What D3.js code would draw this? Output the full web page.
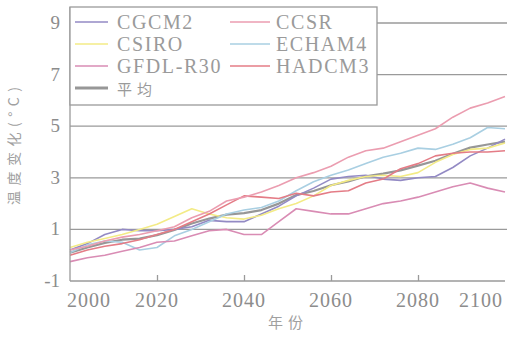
<!DOCTYPE html>
<html>
<head>
<meta charset="utf-8">
<script src="https://cdn.jsdelivr.net/npm/d3@7"></script>
<style>
  html, body { margin: 0; padding: 0; background: #fff; }
  svg { display: block; }
  .serif { font-family: "Liberation Serif", "DejaVu Serif", serif; }
  .cjk { font-family: "Noto Sans CJK SC", "Noto Sans", sans-serif; }
</style>
</head>
<body>
<div id="chart"></div>
<script>
// Projected temperature change (°C) from six GCMs and their ensemble mean
const years = d3.range(2000, 2101, 4);

const seriesNames = ["CGCM2", "CCSR", "CSIRO", "ECHAM4", "GFDL-R30", "HADCM3", "平均"];

const cgcm2   = [0.2, 0.45, 0.8, 1.0, 0.95, 0.95, 1.0, 1.1, 1.35, 1.3, 1.3, 1.6, 1.9, 2.3, 2.6, 2.95, 3.05, 3.1, 2.95, 2.9, 3.0, 3.05, 3.4, 3.85, 4.15, 4.5];
const ccsr    = [0.2, 0.35, 0.55, 0.7, 0.8, 0.95, 1.1, 1.45, 1.7, 2.1, 2.25, 2.45, 2.7, 3.0, 3.2, 3.45, 3.8, 4.05, 4.15, 4.4, 4.65, 4.9, 5.35, 5.7, 5.9, 6.15];
const csiro   = [0.3, 0.5, 0.65, 0.8, 1.0, 1.2, 1.5, 1.8, 1.6, 1.45, 1.4, 1.55, 1.8, 2.0, 2.3, 2.7, 2.9, 3.05, 3.1, 3.05, 3.2, 3.6, 3.9, 4.1, 4.15, 4.35];
const echam4  = [0.1, 0.4, 0.55, 0.5, 0.2, 0.3, 0.75, 1.0, 1.3, 1.6, 1.75, 1.85, 2.1, 2.5, 2.85, 3.1, 3.3, 3.55, 3.8, 3.95, 4.15, 4.1, 4.3, 4.55, 4.95, 4.9];
const gfdlR30 = [-0.25, -0.1, 0.0, 0.15, 0.3, 0.5, 0.55, 0.75, 0.95, 1.0, 0.8, 0.8, 1.3, 1.8, 1.7, 1.6, 1.6, 1.8, 2.0, 2.1, 2.25, 2.45, 2.65, 2.8, 2.6, 2.45];
const hadcm3  = [0.0, 0.2, 0.35, 0.45, 0.6, 0.8, 1.0, 1.3, 1.6, 1.95, 2.3, 2.25, 2.2, 2.4, 2.3, 2.45, 2.5, 2.8, 2.95, 3.35, 3.55, 3.85, 3.95, 4.0, 4.0, 4.05];
const mean    = [0.1, 0.3, 0.48, 0.6, 0.64, 0.78, 0.98, 1.23, 1.42, 1.57, 1.63, 1.75, 2.0, 2.33, 2.49, 2.71, 2.86, 3.06, 3.16, 3.29, 3.47, 3.66, 3.93, 4.17, 4.29, 4.4];

const xTicks = [2000, 2020, 2040, 2060, 2080, 2100];
const yTicks = [-1, 1, 3, 5, 7, 9];

const seriesValues = [cgcm2, ccsr, csiro, echam4, gfdlR30, hadcm3, mean];
const seriesColors = ["#938ac4", "#eb9db0", "#f3eb86", "#a9cfe2", "#d98cb4", "#e47c86", "#979797"];
const seriesWidths = [1.6, 1.6, 1.6, 1.6, 1.6, 1.6, 2.2];

const W = 508, H = 343;
const svg = d3.select("#chart").append("svg").attr("width", W).attr("height", H);

const x = d3.scaleLinear().domain([2000, 2100]).range([70, 505]);
const y = d3.scaleLinear().domain([-1, 9]).range([281, 23]);

const textGray = "#8c8c8c";
const lineGray = "#9a9a9a";

// horizontal gridlines
svg.append("g").selectAll("line")
  .data(yTicks.filter(v => v > -1))
  .join("line")
  .attr("x1", x(2000)).attr("x2", 507)
  .attr("y1", d => y(d)).attr("y2", d => y(d))
  .attr("stroke", lineGray).attr("stroke-width", 1.3);

// model curves, mean drawn first so the models sit on top of it
const line = d3.line().x((d, i) => x(years[i])).y(d => y(d)).curve(d3.curveLinear);
const order = [6, 0, 2, 3, 4, 5, 1];
svg.append("g").selectAll("path")
  .data(order)
  .join("path")
  .attr("d", i => line(seriesValues[i]))
  .attr("fill", "none")
  .attr("stroke", i => seriesColors[i])
  .attr("stroke-width", i => seriesWidths[i])
  .attr("stroke-linejoin", "round");

// x axis
const xAxis = d3.axisBottom(x).tickValues(xTicks.slice(1, -1)).tickSize(-6).tickFormat("");
const gx = svg.append("g").attr("transform", `translate(0,${y(-1)})`).call(xAxis);
gx.select(".domain").attr("stroke", lineGray).attr("stroke-width", 1.3).attr("d", `M${x(2000)},0H${x(2100)}`);
gx.selectAll(".tick line").attr("stroke", lineGray).attr("stroke-width", 1.3);

svg.append("g").selectAll("text")
  .data(xTicks)
  .join("text")
  .attr("class", "serif")
  .attr("x", d => d === 2000 ? x(d) - 3 : d === 2100 ? 503 : x(d))
  .attr("y", 307)
  .attr("text-anchor", d => d === 2000 ? "start" : d === 2100 ? "end" : "middle")
  .attr("font-size", 20)
  .attr("letter-spacing", 1)
  .attr("fill", textGray)
  .text(d => d);

// y axis
const yAxis = d3.axisLeft(y).tickValues(yTicks).tickSize(0).tickFormat("");
const gy = svg.append("g").attr("transform", `translate(${x(2000)},0)`).call(yAxis);
gy.select(".domain").attr("stroke", lineGray).attr("stroke-width", 1.3).attr("d", `M0,7V${y(-1)}`);

svg.append("g").selectAll("text")
  .data(yTicks)
  .join("text")
  .attr("class", "serif")
  .attr("x", 60)
  .attr("y", d => y(d) + 6)
  .attr("text-anchor", "end")
  .attr("font-size", 19)
  .attr("fill", textGray)
  .text(d => d);

// axis titles
svg.append("text")
  .attr("transform", "translate(19,146) rotate(-90)")
  .attr("text-anchor", "middle")
  .attr("font-size", 14)
  .attr("fill", "#a0a0a0")
  .attr("textLength", 118)
  .attr("lengthAdjust", "spacing")
  .attr("font-family", "'Noto Sans CJK SC', 'Liberation Serif', sans-serif")
  .text("温度变化(°C)");

svg.append("text")
  .attr("class", "cjk")
  .attr("x", 288).attr("y", 328)
  .attr("text-anchor", "middle")
  .attr("font-size", 15)
  .attr("letter-spacing", 5)
  .attr("fill", "#a0a0a0")
  .text("年份");

// legend
const legend = svg.append("g");
legend.append("rect")
  .attr("x", 70).attr("y", 7).attr("width", 307).attr("height", 98)
  .attr("fill", "#fff").attr("stroke", lineGray).attr("stroke-width", 1.3);

const legendPos = [
  { col: 0, row: 0 }, { col: 1, row: 0 },
  { col: 0, row: 1 }, { col: 1, row: 1 },
  { col: 0, row: 2 }, { col: 1, row: 2 },
  { col: 0, row: 3 }
];
const colLine = [[75, 108], [230, 270]];
const colText = [117, 276];
const rowY = [22, 44, 66, 88];

const items = legend.selectAll("g.item")
  .data(seriesNames.map((name, i) => ({ name, i, ...legendPos[i] })))
  .join("g").attr("class", "item");

items.append("line")
  .attr("x1", d => colLine[d.col][0]).attr("x2", d => colLine[d.col][1])
  .attr("y1", d => rowY[d.row]).attr("y2", d => rowY[d.row])
  .attr("stroke", d => seriesColors[d.i])
  .attr("stroke-width", d => d.i === 6 ? 3 : 1.6);

items.append("text")
  .attr("x", d => colText[d.col])
  .attr("y", d => rowY[d.row] + 7)
  .attr("font-size", d => d.i === 6 ? 15 : 20)
  .attr("letter-spacing", d => d.i === 6 ? 5 : 1.6)
  .attr("font-family", d => d.i === 6 ? "'Noto Sans CJK SC', sans-serif" : "'Liberation Serif', serif")
  .attr("fill", "#9a9a9a")
  .text(d => d.name);
</script>
</body>
</html>
